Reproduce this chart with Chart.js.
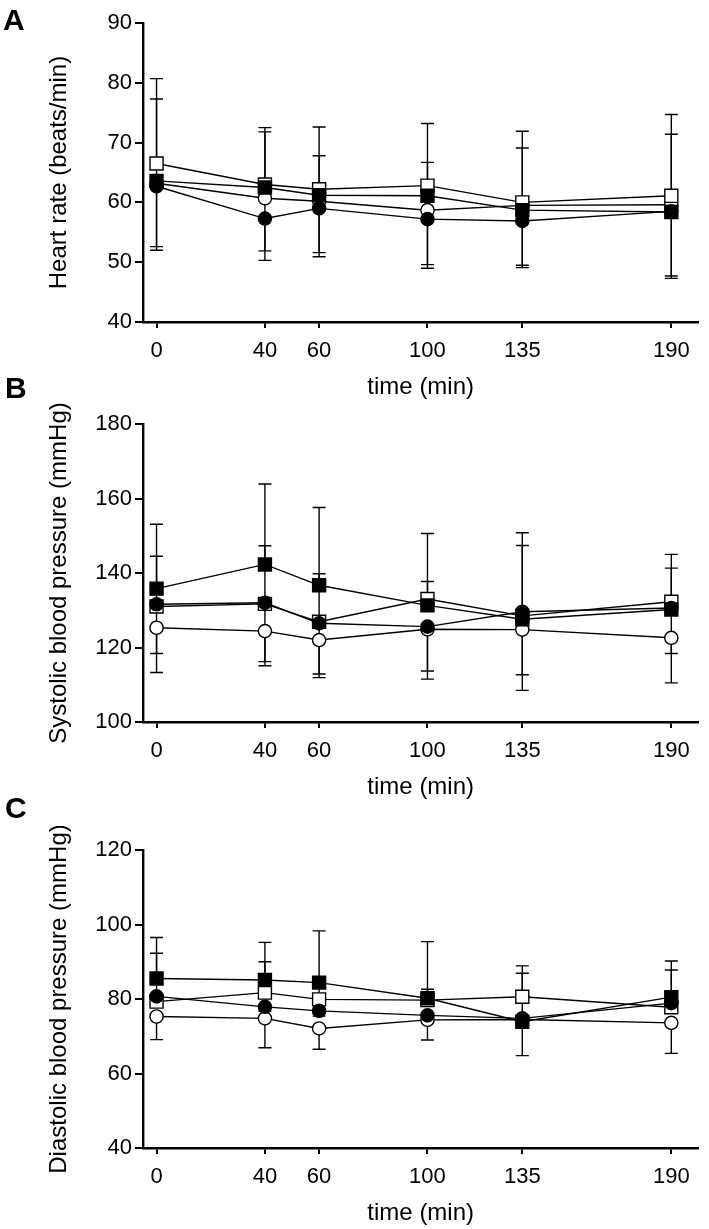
<!DOCTYPE html>
<html lang="en">
<head>
  <meta charset="UTF-8">
  <title>Heart rate and blood pressure over time</title>
  <style>
    html, body {
      margin: 0;
      padding: 0;
      background: #fff;
      width: 709px;
      height: 1229px;
      overflow: hidden;
      font-family: 'Liberation Sans', Arial, sans-serif;
    }
    .panel {
      position: absolute;
      left: 0;
    }
    .letter {
      position: absolute;
      font-weight: bold;
      font-size: 30px;
      line-height: 30px;
      color: #000;
      z-index: 2;
    }
  </style>
</head>
<body>
  <div class="letter" style="left:3px;top:5px">A</div>
  <div class="letter" style="left:5px;top:373px">B</div>
  <div class="letter" style="left:5px;top:793px">C</div>

  <canvas class="panel" id="hrChart" width="709" height="440" style="top:0"></canvas>
  <canvas class="panel" id="sbpChart" width="709" height="440" style="top:400px"></canvas>
  <canvas class="panel" id="dbpChart" width="709" height="440" style="top:826px"></canvas>

  <script src="https://cdn.jsdelivr.net/npm/chart.js"></script>
  <script>
    // time points and x tick labels
    const times = [0, 40, 60, 100, 135, 190];
    const timeLabels = ['0', '40', '60', '100', '135', '190'];

    // A: heart rate (beats/min), mean and SD
    const hrOpenSquare = [66.5, 63.0, 62.2, 62.8, 60.0, 61.1];
    const hrOpenSquareSD = [14.2, 9.5, 10.4, 10.4, 11.9, 13.6];
    const hrFilledSquare = [63.6, 62.5, 61.2, 61.1, 58.7, 58.4];
    const hrFilledSquareSD = [13.7, 9.3, 6.6, 5.6, 10.4, 13.0];
    const hrOpenCircle = [63.2, 60.7, 60.2, 58.7, 59.5, 59.6];
    const hrOpenCircleSD = [10.6, 8.8, 8.6, 9.1, 10.0, 11.9];
    const hrFilledCircle = [62.7, 57.3, 59.0, 57.2, 56.9, 58.5];
    const hrFilledCircleSD = [10.7, 7.0, 8.1, 8.2, 7.8, 11.2];

    // B: systolic blood pressure (mmHg)
    const sbpOpenSquare = [131.0, 131.7, 126.9, 133.0, 128.5, 132.3];
    const sbpOpenSquareSD = [13.5, 15.6, 12.9, 17.6, 18.9, 12.7];
    const sbpFilledSquare = [135.8, 142.3, 136.7, 131.3, 127.6, 130.2];
    const sbpFilledSquareSD = [17.3, 21.6, 20.9, 6.4, 23.2, 11.1];
    const sbpOpenCircle = [125.3, 124.4, 122.0, 124.9, 124.8, 122.6];
    const sbpOpenCircleSD = [6.9, 8.2, 9.1, 11.2, 12.1, 4.2];
    const sbpFilledCircle = [131.6, 132.0, 126.5, 125.6, 129.6, 130.6];
    const sbpFilledCircleSD = [18.3, 16.9, 14.6, 14.1, 21.1, 20.1];

    // C: diastolic blood pressure (mmHg)
    const dbpOpenSquare = [79.3, 81.7, 79.9, 79.7, 80.6, 77.8];
    const dbpOpenSquareSD = [13.0, 8.3, 4.5, 2.9, 8.3, 10.0];
    const dbpFilledSquare = [85.5, 85.1, 84.4, 80.2, 73.9, 80.5];
    const dbpFilledSquareSD = [11.0, 10.1, 13.9, 15.2, 13.0, 9.7];
    const dbpOpenCircle = [75.3, 74.8, 72.1, 74.4, 74.5, 73.6];
    const dbpOpenCircleSD = [6.2, 7.9, 5.6, 5.4, 9.7, 8.2];
    const dbpFilledCircle = [80.7, 77.9, 76.8, 75.6, 74.8, 78.9];
    const dbpFilledCircleSD = [1.6, 1.2, 1.4, 1.0, 1.3, 1.5];

    Chart.defaults.font.family = "'Liberation Sans', Arial, sans-serif";
    Chart.defaults.color = '#000';

    // squares get the upper half of the SD bar, circles the lower half
    const errorBars = {
      id: 'errorBars',
      beforeDatasetsDraw(chart) {
        const { ctx, scales: { x, y } } = chart;
        ctx.save();
        ctx.strokeStyle = '#000';
        ctx.lineWidth = 1.4;
        chart.data.datasets.forEach(ds => {
          ds.data.forEach((pt, i) => {
            const px = x.getPixelForValue(pt.x);
            const y0 = y.getPixelForValue(pt.y);
            const y1 = y.getPixelForValue(pt.y + ds.errDir * ds.sd[i]);
            ctx.beginPath();
            ctx.moveTo(px, y0);
            ctx.lineTo(px, y1);
            ctx.moveTo(px - 6.5, y1);
            ctx.lineTo(px + 6.5, y1);
            ctx.stroke();
          });
        });
        ctx.restore();
      }
    };

    function series(values, sd, shape, fill, dir) {
      return {
        data: times.map((t, i) => ({ x: t, y: values[i] })),
        sd: sd,
        errDir: dir,
        borderColor: '#000',
        borderWidth: 1.4,
        pointStyle: shape,
        pointRadius: shape === 'rect' ? 9.2 : 6.6,
        pointBackgroundColor: fill,
        pointBorderColor: '#000',
        pointBorderWidth: 1.4,
        tension: 0,
        fill: false
      };
    }

    function makePanel(id, padTop, yMin, yMax, yStep, yTitle, datasets) {
      new Chart(document.getElementById(id), {
        type: 'line',
        data: { datasets: datasets },
        options: {
          responsive: false,
          animation: false,
          events: [],
          layout: { padding: { top: padTop, right: 4, left: 0, bottom: 0 } },
          plugins: { legend: { display: false }, tooltip: { enabled: false } },
          scales: {
            x: {
              type: 'linear',
              min: -5,
              max: 200,
              afterFit: s => { s.height = 118; },
              afterBuildTicks: s => { s.ticks = times.map(v => ({ value: v })); },
              ticks: {
                callback: (v, i) => timeLabels[i],
                font: { size: 22 },
                color: '#000',
                padding: 10,
                maxRotation: 0,
                autoSkip: false
              },
              grid: { drawOnChartArea: false, tickLength: 6, color: '#000', lineWidth: 2 },
              border: { color: '#000', width: 2.4 },
              title: {
                display: true,
                text: 'time (min)',
                font: { size: 24 },
                color: '#000',
                padding: { top: 0, bottom: 38 }
              }
            },
            y: {
              min: yMin,
              max: yMax,
              afterFit: s => { s.width = 143; },
              ticks: { stepSize: yStep, font: { size: 22 }, color: '#000', padding: 3 },
              grid: { drawOnChartArea: false, tickLength: 8, color: '#000', lineWidth: 2 },
              border: { color: '#000', width: 2.4 },
              title: {
                display: true,
                text: yTitle,
                font: { size: 24 },
                color: '#000',
                padding: { top: 45, bottom: 0 }
              }
            }
          }
        },
        plugins: [errorBars]
      });
    }

    makePanel('hrChart', 23, 40, 90, 10, 'Heart rate (beats/min)', [
      series(hrFilledSquare, hrFilledSquareSD, 'rect', '#000', 1),
      series(hrFilledCircle, hrFilledCircleSD, 'circle', '#000', -1),
      series(hrOpenSquare, hrOpenSquareSD, 'rect', '#fff', 1),
      series(hrOpenCircle, hrOpenCircleSD, 'circle', '#fff', -1)
    ]);

    makePanel('sbpChart', 24, 100, 180, 20, 'Systolic blood pressure (mmHg)', [
      series(sbpFilledSquare, sbpFilledSquareSD, 'rect', '#000', 1),
      series(sbpFilledCircle, sbpFilledCircleSD, 'circle', '#000', -1),
      series(sbpOpenSquare, sbpOpenSquareSD, 'rect', '#fff', 1),
      series(sbpOpenCircle, sbpOpenCircleSD, 'circle', '#fff', -1)
    ]);

    makePanel('dbpChart', 24, 40, 120, 20, 'Diastolic blood pressure (mmHg)', [
      series(dbpFilledSquare, dbpFilledSquareSD, 'rect', '#000', 1),
      series(dbpFilledCircle, dbpFilledCircleSD, 'circle', '#000', -1),
      series(dbpOpenSquare, dbpOpenSquareSD, 'rect', '#fff', 1),
      series(dbpOpenCircle, dbpOpenCircleSD, 'circle', '#fff', -1)
    ]);
  </script>
</body>
</html>
